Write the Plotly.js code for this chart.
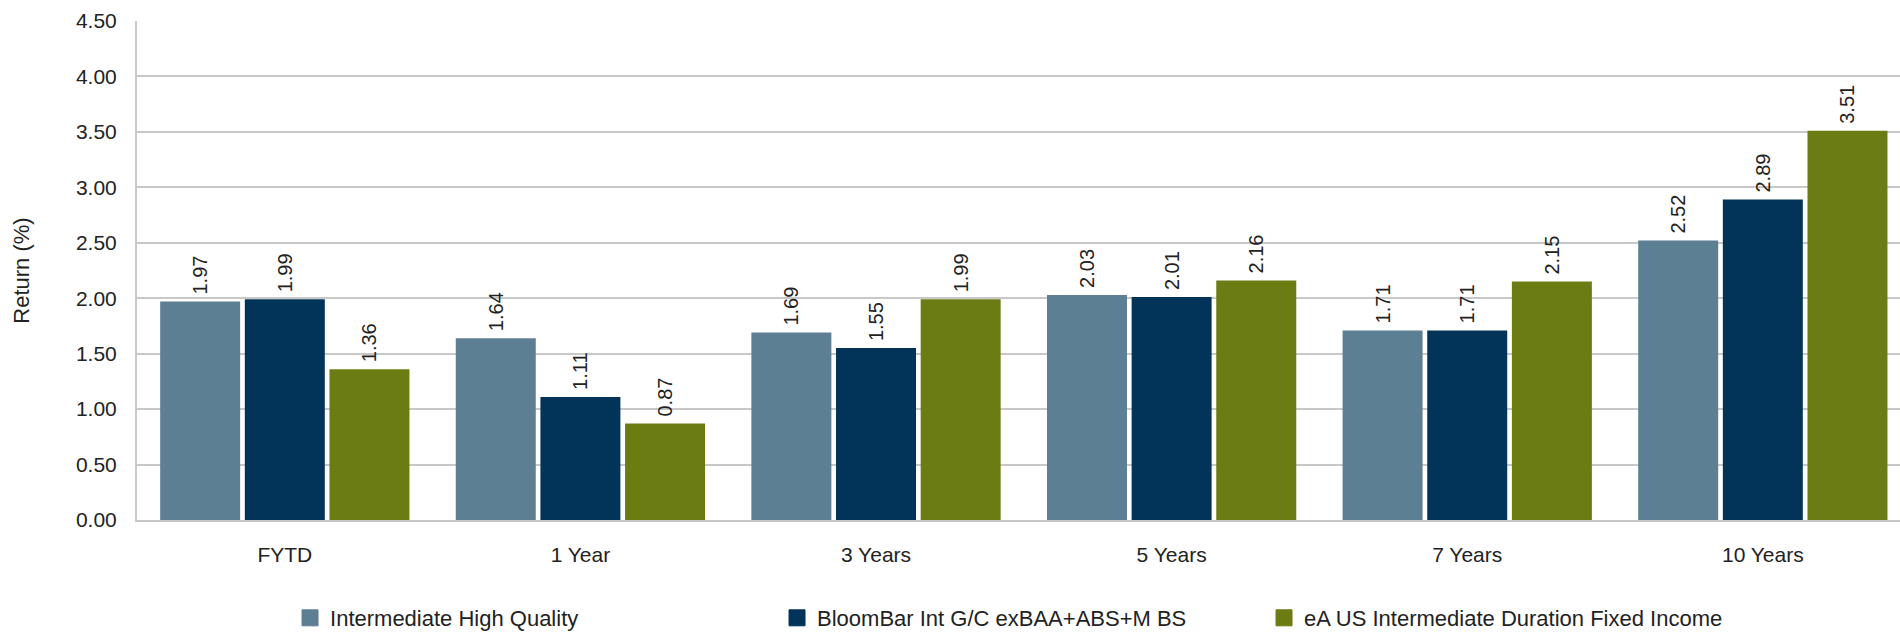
<!DOCTYPE html>
<html>
<head>
<meta charset="utf-8">
<script src="https://cdn.plot.ly/plotly-3.0.1.min.js"></script>
<style>
  html, body { margin: 0; padding: 0; background: #ffffff; }
  #chart { width: 1900px; height: 634px; }
</style>
</head>
<body>
<div id="chart"></div>
<script>
// Periods on the category axis
const periods = ["FYTD", "1 Year", "3 Years", "5 Years", "7 Years", "10 Years"];

// Series names
const seriesNames = [
  "Intermediate High Quality",
  "BloomBar Int G/C exBAA+ABS+M BS",
  "eA US Intermediate Duration Fixed Income"
];

// Returns (%) per period
const intermediateHighQuality = [1.97, 1.64, 1.69, 2.03, 1.71, 2.52];
const bloomBarIntGC = [1.99, 1.11, 1.55, 2.01, 1.71, 2.89];
const eaUsIntermediate = [1.36, 0.87, 1.99, 2.16, 2.15, 3.51];

// Y axis ticks
const yTickValues = [0, 0.5, 1, 1.5, 2, 2.5, 3, 3.5, 4, 4.5];
const yTickLabels = ["0.00", "0.50", "1.00", "1.50", "2.00", "2.50", "3.00", "3.50", "4.00", "4.50"];

const seriesColors = ["#5D7F93", "#023459", "#6A7C12"];
const FONT = "Liberation Sans, Arial, sans-serif";
const TEXT_COLOR = "#222222";
const GRID_COLOR = "#C8C8C8";

const seriesValues = [intermediateHighQuality, bloomBarIntGC, eaUsIntermediate];

// Bars (legend entries come from the square-marker keys below)
const barTraces = seriesValues.map((vals, i) => ({
  type: "bar",
  name: seriesNames[i],
  legendgroup: "s" + i,
  showlegend: false,
  x: periods,
  y: vals,
  marker: { color: seriesColors[i] },
  // thin space keeps the value label a little off the bar end
  texttemplate: "\u2009%{y:.2f}",
  textposition: "outside",
  textangle: -90,
  constraintext: "none",
  cliponaxis: false,
  textfont: { family: FONT, size: 20, color: TEXT_COLOR },
  hoverinfo: "skip"
}));

// Legend keys: larger square swatches
const legendKeys = seriesNames.map((name, i) => ({
  type: "scatter",
  mode: "markers",
  name: name,
  legendgroup: "s" + i,
  x: [null],
  y: [null],
  marker: { symbol: "square", size: 16, color: seriesColors[i],
            line: { width: 1, color: seriesColors[i] } },
  hoverinfo: "skip"
}));

const layout = {
  width: 1900,
  height: 634,
  paper_bgcolor: "#ffffff",
  plot_bgcolor: "#ffffff",
  margin: { l: 137, r: 0, t: 21, b: 114, autoexpand: false },
  barmode: "group",
  bargap: 0.141,
  bargroupgap: 0.055,
  font: { family: FONT, size: 21, color: TEXT_COLOR },
  showlegend: true,
  legend: {
    orientation: "h",
    x: 0.0868,
    xanchor: "left",
    y: -0.1964,
    yanchor: "middle",
    entrywidth: 442,
    entrywidthmode: "pixels",
    font: { family: FONT, size: 22, color: TEXT_COLOR },
    traceorder: "normal",
    bgcolor: "rgba(0,0,0,0)"
  },
  xaxis: {
    type: "category",
    range: [-0.5, 5.464],
    showgrid: false,
    zeroline: false,
    showline: true,
    linecolor: GRID_COLOR,
    linewidth: 2,
    ticks: "",
    ticklabelstandoff: 15,
    tickfont: { family: FONT, size: 21, color: TEXT_COLOR },
    fixedrange: true
  },
  yaxis: {
    range: [0, 4.5],
    tickvals: yTickValues,
    ticktext: yTickLabels,
    showgrid: true,
    gridcolor: GRID_COLOR,
    gridwidth: 2,
    zeroline: false,
    showline: true,
    linecolor: GRID_COLOR,
    linewidth: 2,
    ticks: "",
    ticklabelstandoff: 14,
    tickfont: { family: FONT, size: 21, color: TEXT_COLOR },
    title: {
      text: "Return (%)",
      font: { family: FONT, size: 22, color: TEXT_COLOR },
      standoff: 40
    },
    fixedrange: true
  }
};

Plotly.newPlot("chart", barTraces.concat(legendKeys), layout, { displayModeBar: false, staticPlot: true });
</script>
</body>
</html>
